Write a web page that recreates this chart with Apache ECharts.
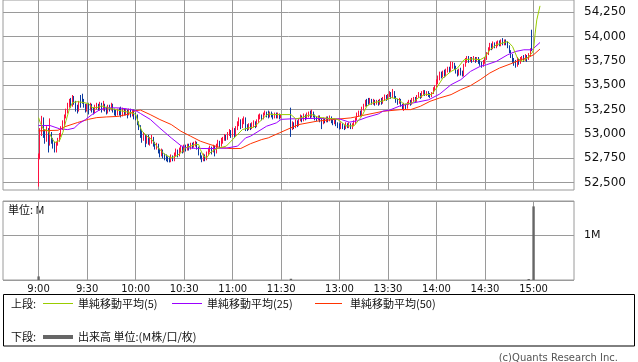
<!DOCTYPE html>
<html><head><meta charset="utf-8">
<script src="https://cdn.jsdelivr.net/npm/echarts@6/dist/echarts.min.js"></script>
<style>html,body{margin:0;padding:0;background:#fff}#c{width:638px;height:362px}</style>
</head><body><div id="c"></div>
<script>
// ---- tick labels ----
const timeTicks = ['9:00','9:30','10:00','10:30','11:00','11:30','13:00','13:30','14:00','14:30','15:00'];
const priceTicks = [52500,52750,53000,53250,53500,53750,54000,54250];
// ---- candles [open, close, low, high], one per minute ----
const amStart = '9:00';
const amCandles = [
[52480,52760,52460,52800],[52760,53030,52740,53060],[53000,53150,52980,53186],[53150,53020,52960,53170],[53020,52940,52900,53050],
[52940,53050,52920,53080],[53050,52900,52810,53060],[52900,53000,52880,53160],[53000,52930,52900,53020],[52930,52880,52850,52960],
[52900,52840,52810,52920],[52840,52900,52810,52920],[52900,52940,52880,52960],[52940,52990,52920,53010],[52990,53060,52970,53080],
[53060,53110,53040,53140],[53100,53180,53080,53200],[53180,53240,53160,53260],[53230,53300,53210,53320],[53300,53340,53270,53360],
[53340,53290,53270,53370],[53290,53380,53280,53400],[53380,53330,53300,53390],[53330,53270,53230,53340],[53280,53240,53210,53300],
[53240,53320,53230,53340],[53330,53290,53270,53400],[53400,53330,53310,53413],[53340,53290,53270,53360],[53290,53250,53220,53310],
[53250,53290,53230,53310],[53300,53260,53200,53320],[53260,53300,53240,53320],[53300,53240,53220,53310],[53250,53220,53200,53270],
[53220,53280,53210,53300],[53270,53310,53250,53320],[53300,53260,53240,53310],[53260,53300,53240,53330],[53310,53250,53220,53320],
[53250,53310,53240,53340],[53300,53260,53230,53310],[53270,53230,53200,53280],[53230,53280,53210,53300],[53280,53250,53230,53300],
[53250,53300,53240,53320],[53300,53240,53220,53310],[53250,53210,53190,53260],[53230,53200,53180,53250],[53200,53240,53190,53260],
[53250,53220,53190,53270],[53260,53200,53170,53280],[53200,53250,53180,53270],[53250,53210,53190,53260],[53210,53240,53190,53260],
[53240,53200,53160,53250],[53200,53250,53190,53260],[53240,53200,53170,53260],[53200,53230,53180,53250],[53230,53180,53150,53250],
[53190,53170,53140,53220],[53170,53110,53090,53200],[53110,53070,53040,53130],[53070,53000,52960,53090],[53010,52950,52910,53040],
[52950,52990,52930,53020],[52990,52920,52865,53000],[52920,52970,52900,52990],[52970,52920,52890,52990],[52920,52950,52880,52970],
[52940,52960,52900,52990],[52960,52900,52870,52970],[52900,52860,52840,52920],[52860,52890,52840,52910],[52890,52830,52800,52900],
[52830,52790,52760,52850],[52790,52830,52770,52850],[52830,52780,52750,52840],[52780,52760,52730,52800],[52770,52740,52720,52790],
[52750,52730,52710,52770],[52740,52720,52708,52760],[52720,52760,52710,52790],[52760,52730,52720,52780],[52730,52790,52720,52810],
[52790,52820,52770,52850],[52820,52780,52760,52840],[52780,52840,52770,52860],[52840,52860,52810,52880],[52860,52820,52800,52870],
[52820,52870,52810,52890],[52870,52840,52820,52890],[52840,52880,52830,52900],[52880,52850,52830,52900],[52850,52900,52840,52910],
[52900,52870,52850,52910],[52870,52910,52860,52920],[52890,52920,52870,52930],[52910,52860,52840,52920],[52860,52800,52780,52870],
[52800,52760,52740,52810],[52760,52740,52710,52780],[52740,52780,52720,52800],[52780,52750,52720,52790],[52750,52800,52730,52820],
[52800,52840,52780,52860],[52830,52860,52810,52880],[52860,52820,52790,52870],[52820,52870,52810,52890],[52870,52820,52770,52880],
[52820,52880,52800,52900],[52880,52920,52860,52940],[52920,52880,52860,52930],[52880,52930,52870,52960],[52920,52950,52900,52970],
[52950,52980,52930,53000],[52980,52950,52930,52990],[52950,53000,52940,53020],[53000,53030,52980,53050],[53030,52990,52960,53040],
[52990,53040,52970,53066],[53040,52990,52960,53060],[52990,53060,52980,53080],[53060,53100,53040,53130],[53100,53140,53080,53170],
[53140,53080,53050,53150],[53080,53130,53060,53160],[53120,53160,53100,53180],[53160,53070,53030,53170],[53080,53050,53030,53100],
[53050,53090,53040,53110],[53090,53060,53040,53110],[53060,53100,53050,53120],[53090,53120,53070,53140],[53120,53080,53060,53130],
[53080,53130,53070,53150],[53130,53180,53110,53200],[53170,53190,53150,53210],[53190,53160,53140,53200],[53160,53210,53150,53220],
[53200,53220,53190,53240],[53220,53190,53170,53230],[53200,53180,53160,53240],[53180,53220,53170,53230],[53220,53190,53170,53230],
[53200,53170,53150,53210],[53170,53210,53160,53220],[53210,53180,53160,53220],[53180,53200,53160,53220],[53200,53170,53150,53210],
[53170,53190,53160,53200]
];
const pmStart = '12:30';
const pmCandles = [
[53240,53060,52970,53270],[53060,53110,53040,53130],[53110,53070,53050,53120],[53070,53130,53060,53150],[53130,53090,53070,53140],
[53090,53150,53080,53160],[53150,53180,53130,53200],[53180,53140,53120,53190],[53140,53190,53130,53210],[53190,53160,53140,53200],
[53160,53200,53150,53220],[53190,53210,53170,53230],[53210,53180,53160,53240],[53180,53220,53170,53250],[53220,53190,53170,53230],
[53190,53160,53140,53200],[53170,53150,53130,53180],[53150,53180,53140,53190],[53180,53140,53120,53190],[53150,53110,53050,53160],
[53110,53150,53100,53170],[53150,53130,53110,53160],[53130,53170,53120,53180],[53170,53140,53120,53180],[53140,53170,53130,53190],
[53170,53130,53110,53180],[53140,53110,53090,53150],[53110,53140,53100,53160],[53140,53100,53080,53150],[53110,53080,53060,53120],
[53090,53060,53045,53110],[53060,53100,53050,53120],[53100,53070,53050,53110],[53080,53060,53040,53090],[53060,53100,53050,53120],
[53100,53070,53060,53110],[53070,53100,53060,53120],[53100,53060,53050,53110],[53060,53090,53050,53110],[53090,53120,53080,53140],
[53120,53160,53100,53170],[53160,53200,53140,53220],[53190,53230,53180,53240],[53230,53200,53180,53240],[53200,53260,53190,53280],
[53260,53300,53240,53310],[53290,53340,53280,53350],[53340,53300,53280,53360],[53350,53320,53300,53370],[53320,53350,53310,53370],
[53350,53320,53300,53360],[53320,53340,53300,53360],[53340,53310,53290,53350],[53310,53340,53300,53350],[53340,53310,53290,53350],
[53310,53350,53300,53360],[53350,53320,53300,53370],[53320,53370,53310,53380],[53360,53390,53340,53405],[53390,53360,53340,53400],
[53360,53400,53350,53410],[53390,53420,53380,53440],[53420,53380,53360,53430],[53380,53440,53370,53462],[53430,53380,53360,53440],
[53380,53340,53320,53390],[53350,53320,53300,53360],[53320,53350,53310,53370],[53350,53300,53280,53360],[53300,53270,53250,53310],
[53270,53300,53237,53320],[53300,53270,53250,53310],[53270,53320,53260,53330],[53310,53340,53300,53350],[53340,53310,53290,53350],
[53310,53350,53300,53370],[53340,53370,53330,53380],[53370,53340,53330,53380],[53340,53390,53330,53400],[53380,53410,53370,53430],
[53410,53380,53360,53420],[53380,53420,53370,53440],[53420,53440,53400,53450],[53440,53400,53390,53450],[53400,53430,53390,53440],
[53430,53400,53380,53440],[53410,53390,53370,53420],[53390,53420,53380,53430],[53420,53460,53410,53480],[53450,53490,53440,53500],
[53480,53540,53470,53560],[53530,53580,53510,53600],[53570,53620,53550,53640],[53620,53590,53570,53640],[53590,53630,53580,53650],
[53630,53600,53580,53660],[53600,53650,53590,53670],[53640,53680,53630,53690],[53680,53650,53630,53690],[53650,53700,53640,53745],
[53690,53720,53670,53740],[53720,53680,53660,53730],[53690,53640,53620,53700],[53650,53610,53590,53660],[53610,53650,53600,53670],
[53660,53620,53600,53680],[53630,53600,53590,53650],[53600,53700,53590,53720],[53700,53760,53690,53780],[53750,53790,53730,53800],
[53790,53750,53730,53800],[53750,53780,53740,53790],[53780,53750,53730,53790],[53750,53780,53740,53800],[53780,53750,53730,53790],
[53750,53780,53740,53790],[53780,53740,53720,53790],[53750,53720,53700,53770],[53730,53700,53680,53740],[53700,53740,53690,53760],
[53740,53780,53720,53790],[53780,53830,53760,53840],[53820,53870,53810,53890],[53860,53910,53850,53935],[53910,53880,53860,53930],
[53880,53920,53870,53950],[53920,53890,53880,53940],[53890,53930,53880,53950],[53920,53950,53900,53960],[53950,53910,53900,53960],
[53910,53950,53900,53970],[53950,53930,53910,53984],[53930,53960,53910,53970],[53960,53930,53910,53970],[53940,53900,53880,53950],
[53900,53850,53830,53910],[53850,53800,53780,53860],[53810,53760,53730,53820],[53770,53730,53700,53780],[53740,53700,53680,53760],
[53700,53760,53690,53790],[53760,53730,53710,53770],[53730,53770,53720,53790],[53760,53790,53750,53800],[53790,53760,53740,53810],
[53760,53800,53750,53820],[53800,53770,53740,53810],[53770,53820,53760,53830],[53810,53860,53800,53880],[53880,53860,53850,54070],
[54315,54315,54315,54315]
];
// ---- moving averages [time, value] ----
const ma5 = [['9:00',53168],['9:01',53117],['9:03',53049],['9:06',53032],['9:08',52963],['9:10',52912],['9:13',52933],['9:15',53015],['9:17',53138],['9:19',53253],['9:21',53322],['9:24',53332],['9:28',53322],['9:31',53311],['9:33',53270],['9:36',53270],['9:39',53288],['9:42',53270],['9:47',53253],['9:51',53237],['9:57',53220],['10:00',53202],['10:02',53097],['10:04',53028],['10:07',52977],['10:10',52943],['10:13',52875],['10:16',52823],['10:18',52790],['10:22',52756],['10:25',52772],['10:28',52807],['10:31',52858],['10:37',52892],['10:39',52892],['10:40',52841],['10:42',52772],['10:44',52756],['10:46',52807],['10:49',52841],['10:52',52858],['10:56',52875],['10:59',52926],['11:01',52960],['11:06',53045],['11:10',53063],['11:13',53069],['11:16',53114],['11:19',53165],['11:22',53206],['11:25',53199],['11:30',53199],['12:30',53199],['12:33',53155],['12:36',53165],['12:39',53182],['12:43',53199],['12:47',53171],['12:53',53160],['12:58',53155],['13:00',53138],['13:04',53083],['13:09',53083],['13:14',53186],['13:17',53288],['13:21',53322],['13:27',53339],['13:32',53373],['13:36',53360],['13:40',53305],['13:45',53319],['13:49',53373],['13:53',53407],['13:57',53404],['14:00',53472],['14:04',53575],['14:09',53642],['14:13',53677],['14:17',53762],['14:22',53770],['14:27',53762],['14:30',53790],['14:33',53864],['14:37',53915],['14:44',53949],['14:47',53898],['14:50',53779],['14:53',53745],['14:56',53779],['14:59',53830],['15:00',53864],['15:01',54035],['15:02',54171],['15:04',54315]];
const ma25 = [['9:00',53087],['9:07',53087],['9:13',53053],['9:18',53045],['9:22',53060],['9:25',53107],['9:29',53148],['9:33',53199],['9:38',53250],['9:42',53268],['9:49',53268],['9:55',53257],['10:00',53240],['10:03',53210],['10:09',53150],['10:15',53060],['10:22',52960],['10:28',52880],['10:31',52860],['10:37',52852],['10:46',52850],['10:56',52855],['11:03',52875],['11:08',52960],['11:11',52977],['11:21',53080],['11:27',53114],['11:30',53150],['12:30',53155],['12:45',53160],['13:00',53155],['13:06',53121],['13:11',53135],['13:17',53172],['13:24',53205],['13:27',53235],['13:31',53245],['13:37',53285],['13:43',53310],['13:49',53330],['13:55',53350],['14:02',53410],['14:09',53506],['14:15',53557],['14:21',53642],['14:27',53694],['14:31',53711],['14:37',53745],['14:44',53813],['14:49',53847],['14:54',53864],['14:59',53864],['15:04',53939]];
const ma50 = [['9:00',53032],['9:12',53038],['9:16',53073],['9:24',53117],['9:31',53151],['9:36',53168],['9:42',53175],['9:49',53180],['9:56',53205],['10:00',53240],['10:03',53245],['10:09',53199],['10:15',53148],['10:22',53097],['10:28',53028],['10:34',52977],['10:40',52926],['10:46',52892],['10:52',52862],['10:59',52850],['11:05',52851],['11:11',52900],['11:18',52943],['11:22',52960],['11:29',53012],['12:30',53063],['12:35',53097],['12:46',53131],['12:56',53148],['13:07',53165],['13:17',53199],['13:27',53233],['13:38',53250],['13:44',53250],['13:50',53284],['13:56',53335],['14:02',53370],['14:09',53404],['14:15',53455],['14:21',53496],['14:27',53557],['14:33',53626],['14:39',53677],['14:46',53721],['14:52',53762],['14:56',53779],['15:00',53813],['15:04',53872]];
// ---- volume [time, shares] ----
const volume = [['9:00',80000],['12:30',28000],['14:57',22000],['15:00',1640000]];

// ---- axis slots (1 per minute, with compressed lunch break) ----
function toMin(t){const p=t.split(':');return +p[0]*60+ +p[1];}
function fmt(m){return Math.floor(m/60)+':'+String(m%60).padStart(2,'0');}
const slots=[];
for(let m=toMin('8:38');m<=toMin('11:30');m++) slots.push(fmt(m));
for(let m=toMin('12:25');m<=toMin('15:25');m++) slots.push(fmt(m));
const candles=[];
amCandles.forEach((r,i)=>candles.push([fmt(toMin(amStart)+i)].concat(r)));
pmCandles.forEach((r,i)=>candles.push([fmt(toMin(pmStart)+i)].concat(r)));

const UP='#ff1040', DOWN='#0b3a9e', GRID='#9a9a9a';
const isTick=(i,v)=>timeTicks.indexOf(v)>=0;
const numFont='DejaVu Sans';
const gridColors=[]; for(let k=0;k<10;k++) gridColors.push(k===3?GRID:'rgba(0,0,0,0)');

const chart=echarts.init(document.getElementById('c'),null,{renderer:'canvas'});
chart.setOption({
  animation:false,
  grid:[
    {left:3,width:571,top:0,height:190,show:true,borderColor:GRID,borderWidth:1},
    {left:3,width:571,top:201,height:79,show:true,borderColor:GRID,borderWidth:1}
  ],
  xAxis:[
    {type:'category',gridIndex:0,data:slots,boundaryGap:false,axisLine:{show:false},axisTick:{show:false},
     axisLabel:{show:false},splitLine:{show:true,interval:isTick,lineStyle:{color:GRID,width:1}}},
    {type:'category',gridIndex:1,data:slots,boundaryGap:false,axisLine:{show:false},axisTick:{show:false},
     axisLabel:{show:true,interval:isTick,fontFamily:numFont,fontSize:10,color:'#111',margin:4},
     splitLine:{show:true,interval:isTick,lineStyle:{color:GRID,width:1}}}
  ],
  yAxis:[
    {type:'value',gridIndex:0,position:'right',min:52425,max:54375,interval:25,scale:true,
     axisLine:{show:false},axisTick:{show:false},
     splitLine:{show:true,lineStyle:{color:gridColors,width:1}},
     axisLabel:{margin:10,fontFamily:numFont,fontSize:12,color:'#111',
       formatter:v=>priceTicks.indexOf(v)>=0?String(v).replace(/\B(?=(\d{3})+(?!\d))/g,','):''}},
    {type:'value',gridIndex:1,position:'right',min:0,max:1760000,interval:1000000,
     axisLine:{show:false},axisTick:{show:false},
     splitLine:{show:true,lineStyle:{color:GRID,width:1}},
     axisLabel:{margin:10,fontFamily:numFont,fontSize:11,color:'#111',formatter:v=>v===1000000?'1M':''}}
  ],
  series:[
    {type:'candlestick',xAxisIndex:0,yAxisIndex:0,data:candles,encode:{x:0,y:[1,2,3,4]},barWidth:1.3,
     itemStyle:{color:UP,color0:DOWN,borderColor:UP,borderColor0:DOWN,borderColorDoji:DOWN,borderWidth:1}},
    {type:'line',xAxisIndex:0,yAxisIndex:0,data:ma50,showSymbol:false,symbol:'none',lineStyle:{color:'#ff3300',width:1}},
    {type:'line',xAxisIndex:0,yAxisIndex:0,data:ma25,showSymbol:false,symbol:'none',lineStyle:{color:'#9b00ff',width:1}},
    {type:'line',xAxisIndex:0,yAxisIndex:0,data:ma5,showSymbol:false,symbol:'none',lineStyle:{color:'#99cc00',width:1}},
    {type:'bar',xAxisIndex:1,yAxisIndex:1,data:volume,barWidth:2.4,itemStyle:{color:'#666'}}
  ],
  graphic:[
    {type:'text',left:8,top:204,style:{text:'単位: M',font:'11px "Noto Sans CJK JP"',fill:'#111'}},
    {type:'rect',shape:{x:3.5,y:294.5,width:631,height:51.5},style:{fill:'none',stroke:'#000',lineWidth:1}},
    {type:'text',x:11,y:303.5,style:{text:'上段:',font:'11px "Noto Sans CJK JP"',fill:'#111',verticalAlign:'middle'}},
    {type:'line',shape:{x1:43,y1:303.5,x2:73,y2:303.5},style:{stroke:'#99cc00',lineWidth:1}},
    {type:'text',x:78,y:303.5,style:{text:'単純移動平均(5)',font:'11px "Noto Sans CJK JP"',fill:'#111',verticalAlign:'middle'}},
    {type:'line',shape:{x1:172,y1:303.5,x2:202,y2:303.5},style:{stroke:'#9b00ff',lineWidth:1}},
    {type:'text',x:207,y:303.5,style:{text:'単純移動平均(25)',font:'11px "Noto Sans CJK JP"',fill:'#111',verticalAlign:'middle'}},
    {type:'line',shape:{x1:315,y1:303.5,x2:342,y2:303.5},style:{stroke:'#ff3300',lineWidth:1}},
    {type:'text',x:350,y:303.5,style:{text:'単純移動平均(50)',font:'11px "Noto Sans CJK JP"',fill:'#111',verticalAlign:'middle'}},
    {type:'text',x:11,y:337,style:{text:'下段:',font:'11px "Noto Sans CJK JP"',fill:'#111',verticalAlign:'middle'}},
    {type:'line',shape:{x1:43,y1:337,x2:73,y2:337},style:{stroke:'#666',lineWidth:4}},
    {type:'text',x:78,y:337,style:{text:'出来高 単位:(M株/口/枚)',font:'11px "Noto Sans CJK JP"',fill:'#111',verticalAlign:'middle'}},
    {type:'text',x:618,y:358,style:{text:'(c)Quants Research Inc.',font:'10px "DejaVu Sans"',fill:'#555',align:'right',verticalAlign:'middle'}}
  ]
});
</script></body></html>
